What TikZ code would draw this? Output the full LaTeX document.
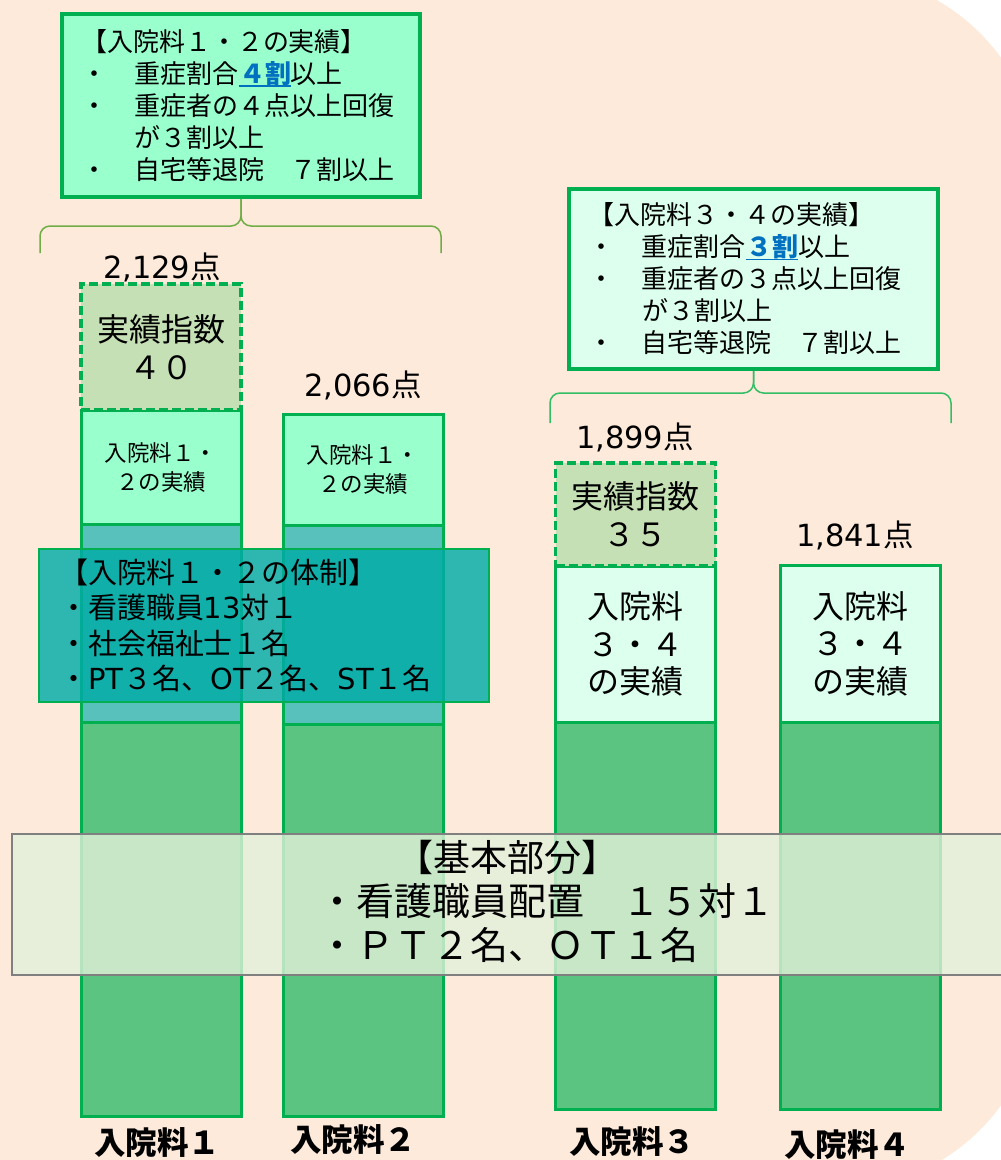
\documentclass[tikz,border=0pt]{standalone}
\usepackage{fontspec}
\setmainfont{Noto Sans CJK JP}
\newfontfamily\latinfont{DejaVu Sans}
\usepackage{xcolor}
\definecolor{bgPeach}{RGB}{253,234,218}
\definecolor{lineGreen}{RGB}{0,176,80}
\definecolor{resMint}{RGB}{153,255,204}
\definecolor{resPale}{RGB}{220,255,238}
\definecolor{idxGreen}{RGB}{197,224,180}
\definecolor{baseGreen}{RGB}{91,196,128}
\definecolor{tealSeg}{RGB}{89,193,187}
\definecolor{tealBox}{RGB}{0,172,167}
\definecolor{paleGreen}{RGB}{226,240,217}
\definecolor{frameGray}{RGB}{128,128,128}
\definecolor{braceOlive}{RGB}{112,173,71}
\definecolor{braceGreen}{RGB}{50,190,100}
\definecolor{keyBlue}{RGB}{0,112,192}
\newcommand{\keyrate}[1]{\setbox0\hbox{\textbf{#1}}\textcolor{keyBlue}{\rlap{\rule[-3.5pt]{\wd0}{1.8pt}}\box0}}

\begin{document}
\begin{tikzpicture}[x=1pt,y=-1pt,
  seg/.style={draw=lineGreen,line width=3pt,minimum width=160pt,inner sep=0pt,align=center},
  segbase/.style={seg,fill=baseGreen},
  segteal/.style={seg,fill=tealSeg},
  segres/.style={seg,fill=resMint,font=\fontsize{22.5}{29}\selectfont},
  segpale/.style={seg,fill=resPale,font=\fontsize{32}{37.5}\selectfont},
  segidx/.style={seg,fill=idxGreen,line width=3.5pt,dash pattern=on 9pt off 4pt,font=\fontsize{32}{38}\selectfont},
  pts/.style={font=\fontsize{30.5}{32}\selectfont},
  rank/.style={font=\fontsize{31.5}{32}\selectfont\bfseries},
  critbox/.style={draw=lineGreen,line width=4pt,align=left,inner ysep=0pt,font=\fontsize{26}{32}\selectfont},
  bracepath/.style={line width=1.5pt,rounded corners=10pt}]
\useasboundingbox (0,0) rectangle (1001,1160);
\fill[bgPeach,rounded corners=205pt] (-300,-27) rectangle (1040,1190);
% bars
\node[segbase,minimum height=394pt] (base1) at (161,919) {};
\node[segteal,minimum height=198pt] (teal1) at (161,623) {};
\node[segres,minimum height=114pt] (res1) at (161,467) {入院料１・\\２の実績};
\node[segidx,minimum height=126pt] (idx1) at (161,347) {実績指数\\４０};
\node[segbase,minimum height=392pt] (base2) at (363,920) {};
\node[segteal,minimum height=199pt] (teal2) at (363,624.5) {};
\node[segres,minimum height=111pt] (res2) at (363,469.5) {入院料１・\\２の実績};
\node[segbase,minimum height=387pt] (base3) at (635.5,915.5) {};
\node[segpale,minimum height=156pt] (res3) at (635.5,644) {入院料\\３・４\\の実績};
\node[segidx,minimum height=103pt] (idx3) at (635.5,514.5) {実績指数\\３５};
\node[segbase,minimum height=387pt] (base4) at (860,915.5) {};
\node[segpale,minimum height=157pt] (res4) at (860,643.5) {入院料\\３・４\\の実績};
% points
\node[pts] (pts1) at (162,267) {{\latinfont 2,129}点};
\node[pts] (pts2) at (363,385) {{\latinfont 2,066}点};
\node[pts] (pts3) at (635,437) {{\latinfont 1,899}点};
\node[pts] (pts4) at (855,535) {{\latinfont 1,841}点};
% criteria boxes
\node[critbox,fill=resMint,minimum width=358pt,minimum height=183pt,text width=320pt,inner xsep=19pt] (crit12) at (241,105.5) {【入院料１・２の実績】\\
\makebox[54pt][l]{・}重症割合\keyrate{４割}以上\\
\makebox[54pt][l]{・}重症者の４点以上回復\\
\hspace*{54pt}が３割以上\\
\makebox[54pt][l]{・}自宅等退院　７割以上};
\node[critbox,fill=resPale,minimum width=369pt,minimum height=180pt,text width=331pt,inner xsep=19pt] (crit34) at (753.5,279) {【入院料３・４の実績】\\
\makebox[54pt][l]{・}重症割合\keyrate{３割}以上\\
\makebox[54pt][l]{・}重症者の３点以上回復\\
\hspace*{54pt}が３割以上\\
\makebox[54pt][l]{・}自宅等退院　７割以上};
\coordinate (br1l) at (40,253);
\coordinate (br1r) at (441,253);
\coordinate (br2l) at (550,423);
\coordinate (br2r) at (951,423);
\draw[bracepath,draw=braceOlive] (br1l) -- ++(0,-27) -| (crit12.south);
\draw[bracepath,draw=braceOlive] (br1r) -- ++(0,-27) -| (crit12.south);
\draw[bracepath,draw=braceGreen] (br2l) -- ++(0,-30) -| (crit34.south);
\draw[bracepath,draw=braceGreen] (br2r) -- ++(0,-30) -| (crit34.south);
% overlays
\node[draw=lineGreen,line width=1.5pt,fill=tealBox,fill opacity=0.82,text opacity=1,minimum width=450pt,minimum height=153pt,text width=410pt,inner xsep=20pt,inner ysep=0pt,align=left,font=\fontsize{29}{35.5}\selectfont] (staff12) at (264,625.5) {【入院料１・２の体制】\\・看護職員{\latinfont 13}対１\\・社会福祉士１名\\・{\latinfont PT}３名、{\latinfont OT}２名、{\latinfont ST}１名};
\node[draw=frameGray,line width=2.5pt,fill=paleGreen,fill opacity=0.8,minimum width=1030pt,minimum height=141pt,inner sep=0pt] (basic) at (527,904.5) {};
\node[font=\fontsize{37}{44}\selectfont,inner sep=0pt] (basictitle) at (507,857) {【基本部分】};
\node[font=\fontsize{38}{44}\selectfont,inner sep=0pt,anchor=west,align=left] (basiclist) at (318,923.5) {・看護職員配置　１５対１\\・ＰＴ２名、ＯＴ１名};
% labels
\node[rank] (rank1) at (157,1143) {入院料１};
\node[rank] (rank2) at (353,1140) {入院料２};
\node[rank] (rank3) at (632,1142) {入院料３};
\node[rank] (rank4) at (847,1145) {入院料４};
\end{tikzpicture}
\end{document}
